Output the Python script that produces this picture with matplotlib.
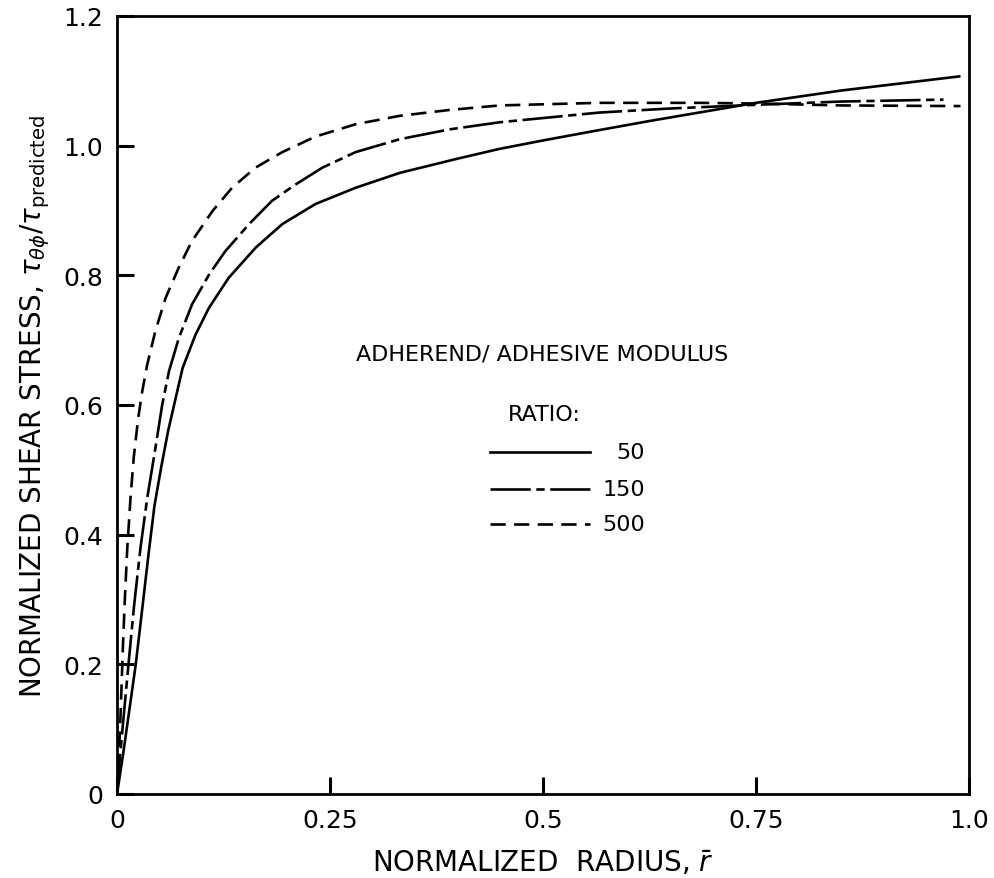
import matplotlib
matplotlib.use("Agg")
import matplotlib.pyplot as plt
from matplotlib.lines import Line2D

plt.rcParams['font.family'] = ['DejaVu Sans']
plt.rcParams['mathtext.fontset'] = 'dejavusans'
plt.rcParams['lines.scale_dashes'] = False

# Shear stress distributions for three adherend/adhesive modulus ratios
x50 = [0, 0.007, 0.014, 0.022, 0.030, 0.037, 0.044, 0.052, 0.060, 0.067, 0.077, 0.092,
       0.108, 0.131, 0.163, 0.194, 0.233, 0.28, 0.332, 0.4, 0.449, 0.5, 0.566, 0.625,
       0.683, 0.75, 0.85, 0.99]
y50 = [0, 0.06, 0.125, 0.2, 0.29, 0.37, 0.445, 0.505, 0.56, 0.6, 0.657, 0.708,
       0.75, 0.796, 0.843, 0.879, 0.91, 0.935, 0.958, 0.98, 0.995, 1.008, 1.024, 1.038,
       1.051, 1.066, 1.085, 1.107]

x150 = [0, 0.003, 0.006, 0.0131, 0.02, 0.0276, 0.0354, 0.045, 0.053, 0.061, 0.0725,
        0.088, 0.108, 0.127, 0.155, 0.182, 0.2095, 0.241, 0.28, 0.332, 0.39, 0.449,
        0.566, 0.645, 0.75, 0.85, 0.97]
y150 = [0, 0.05, 0.094, 0.195, 0.29, 0.38, 0.456, 0.533, 0.6, 0.652, 0.703,
        0.755, 0.801, 0.837, 0.879, 0.915, 0.94, 0.966, 0.99, 1.01, 1.025, 1.036,
        1.051, 1.057, 1.063, 1.068, 1.071]

x500 = [0, 0.0021, 0.0041, 0.0068, 0.0092, 0.012, 0.0158, 0.0197, 0.0249, 0.0296, 0.0354,
        0.045, 0.057, 0.0725, 0.088, 0.112, 0.135, 0.1625, 0.194, 0.233, 0.28, 0.332,
        0.39, 0.449, 0.566, 0.683, 0.75, 0.85, 0.99]
y500 = [0, 0.053, 0.12, 0.223, 0.301, 0.378, 0.456, 0.52, 0.58, 0.621, 0.662,
        0.714, 0.765, 0.812, 0.853, 0.899, 0.935, 0.966, 0.99, 1.014, 1.033, 1.046,
        1.055, 1.062, 1.066, 1.066, 1.065, 1.062, 1.061]

ratio_labels = ['50', '150', '500']
xticks = [0, 0.25, 0.5, 0.75, 1.0]
xticklabels = ['0', '0.25', '0.5', '0.75', '1.0']
yticks = [0, 0.2, 0.4, 0.6, 0.8, 1.0, 1.2]
yticklabels = ['0', '0.2', '0.4', '0.6', '0.8', '1.0', '1.2']

styles = ['-', (0, (29, 4, 6, 4)), (0, (11, 6))]
lw = 1.9

fig = plt.figure(figsize=(9.95, 8.79), dpi=100)
ax = fig.add_axes([0.1176, 0.0956, 0.8563, 0.8851])

for xs, ys, ls in zip([x50, x150, x500], [y50, y150, y500], styles):
    ax.plot(xs, ys, color='black', lw=lw, linestyle=ls, solid_capstyle='butt',
            dash_capstyle='butt', solid_joinstyle='round')

ax.set_xlim(0, 1.0)
ax.set_ylim(0, 1.2)
ax.set_xticks(xticks)
ax.set_xticklabels(xticklabels)
ax.set_yticks(yticks)
ax.set_yticklabels(yticklabels)
ax.tick_params(axis='both', direction='in', length=12, width=2.2,
               labelsize=18, pad=10, top=False, right=False)
for s in ax.spines.values():
    s.set_linewidth(2.0)

ax.set_xlabel(r'NORMALIZED  RADIUS, $\bar{r}$', fontsize=20, labelpad=12)
ax.set_ylabel(r'NORMALIZED SHEAR STRESS, $\tau_{\theta\phi}/\tau_{\mathrm{predicted}}$',
              fontsize=20, labelpad=8)

# key drawn inside the plot area
ax.text(0.499, 0.566, 'ADHEREND/ ADHESIVE MODULUS', transform=ax.transAxes,
        ha='center', va='center', fontsize=16)
ax.text(0.502, 0.488, 'RATIO:', transform=ax.transAxes,
        ha='center', va='center', fontsize=16)
for ls, lab, yk in zip(styles, ratio_labels, [0.440, 0.392, 0.347]):
    ax.add_line(Line2D([0.438, 0.555], [yk, yk], transform=ax.transAxes,
                       color='black', lw=lw, linestyle=ls))
    ax.text(0.620, yk, lab, transform=ax.transAxes, ha='right', va='center',
            fontsize=16)

fig.savefig('out.png', dpi=100)
